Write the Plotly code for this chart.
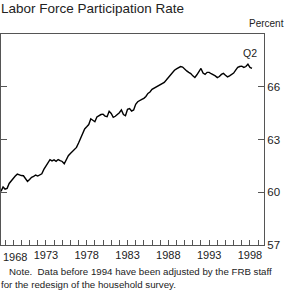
import plotly.graph_objects as go

# Quarterly labor force participation rate, 1967Q3 - 1998Q2 (percent)
start_year = 1967
start_quarter = 3
lfpr = [
    60.05, 60.30,
    60.18, 60.22, 60.50, 60.65,
    60.80, 60.92, 61.03, 60.98,
    60.95, 60.94, 60.78, 60.62,
    60.72, 60.85, 60.90, 60.98,
    60.92, 61.00, 61.05, 61.30,
    61.50, 61.72, 61.85, 61.78,
    61.84, 61.76, 61.86, 61.80,
    61.75, 61.62, 61.85, 62.08,
    62.20, 62.32, 62.40, 62.55,
    62.80, 63.05, 63.32, 63.60,
    63.72, 63.85, 64.18, 64.08,
    64.01, 64.28, 64.35, 64.42,
    64.44, 64.33, 64.30, 64.60,
    64.48, 64.26, 64.32, 64.40,
    64.52, 64.68, 64.42, 64.35,
    64.72, 64.76, 64.62, 64.68,
    65.00, 65.15, 65.24, 65.28,
    65.34, 65.45, 65.62, 65.70,
    65.85, 65.92, 65.98, 66.03,
    66.10, 66.20, 66.25, 66.38,
    66.52, 66.70, 66.82, 66.94,
    67.02, 67.10, 67.15, 67.12,
    66.98, 66.90, 66.82, 66.75,
    66.62, 66.53, 66.68, 66.85,
    67.04, 66.78, 66.70, 66.82,
    66.82, 66.74, 66.70, 66.62,
    66.52, 66.58, 66.70, 66.76,
    66.65, 66.56, 66.62, 66.70,
    66.78, 66.95, 67.10, 67.15,
    67.17, 67.10, 67.15, 67.28,
    67.10, 67.04,
]
label_years = [1968, 1973, 1978, 1983, 1988, 1993, 1998]
y_ticks = [57, 60, 63, 66, 69]
y_labels = ["57", "60", "63", "66", ""]

t = [start_year + (start_quarter - 1) / 4 + 0.25 * i for i in range(len(lfpr))]

tick_years = list(range(1968, 2000))
tick_text = [str(y) if (y in label_years and y != 1968) else "" for y in tick_years]

FONT = "Liberation Sans, Arial, Helvetica, sans-serif"
AX = "#555555"
TXT = "#222222"

fig = go.Figure()
fig.add_trace(go.Scatter(x=t, y=lfpr, mode="lines",
                         line=dict(color="black", width=1.4),
                         hoverinfo="skip", showlegend=False))

fig.update_layout(
    width=287, height=291,
    margin=dict(l=1, r=23, t=34, b=46),
    paper_bgcolor="white", plot_bgcolor="white",
    font=dict(family=FONT, size=11, color=TXT),
    xaxis=dict(range=[1967.5, 1999.72], tickmode="array",
               tickvals=tick_years, ticktext=tick_text,
               ticks="inside", ticklen=5, tickwidth=1, tickcolor=AX,
               showline=True, linecolor=AX, linewidth=1, mirror=True,
               showgrid=False, zeroline=False,
               tickfont=dict(size=11, color=TXT, family=FONT)),
    yaxis=dict(range=[57, 69], side="right", tickmode="array",
               tickvals=y_ticks, ticktext=y_labels,
               ticks="inside", ticklen=6, tickwidth=1, tickcolor=AX,
               showline=True, linecolor=AX, linewidth=1, mirror="ticks",
               showgrid=False, zeroline=False,
               tickfont=dict(size=11.5, color=TXT, family=FONT)),
)

fig.add_annotation(xref="x", yref="paper", x=1967.5, y=0, xanchor="left",
                   yanchor="top", yshift=-4, text=str(label_years[0]),
                   showarrow=False, font=dict(size=11, color=TXT, family=FONT))

fig.add_annotation(xref="paper", yref="paper", x=0, y=1, xanchor="left",
                   yanchor="middle", xshift=-2, yshift=26,
                   text="Labor Force Participation Rate", showarrow=False,
                   font=dict(size=13.5, color=TXT, family=FONT))
fig.add_annotation(xref="paper", yref="paper", x=1, y=1, xanchor="right",
                   yanchor="middle", xshift=22, yshift=11,
                   text="Percent", showarrow=False,
                   font=dict(size=10, color=TXT, family=FONT))
fig.add_annotation(xref="x", yref="y", x=1998.0, y=67.9, xanchor="center",
                   yanchor="middle", text="Q2", showarrow=False,
                   font=dict(size=10.5, color=TXT, family=FONT))
fig.add_annotation(xref="paper", yref="paper", x=0, y=0, xanchor="left",
                   yanchor="top", xshift=-2, yshift=-19, align="left",
                   text="   Note.  Data before 1994 have been adjusted by the FRB staff<br>for the redesign of the household survey.",
                   showarrow=False,
                   font=dict(size=9.7, color=TXT, family=FONT))

fig.write_html("out.html")
